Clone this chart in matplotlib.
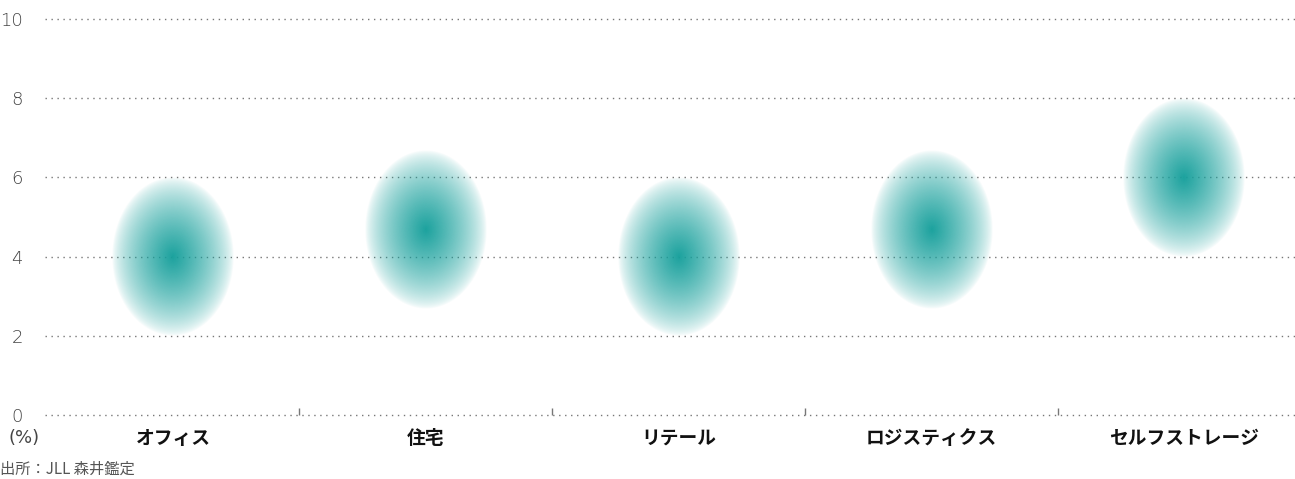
import numpy as np
import matplotlib.pyplot as plt
from matplotlib.colors import to_rgb

plt.rcParams['font.family'] = ['Noto Sans CJK JP', 'DejaVu Sans']

categories = ['オフィス', '住宅', 'リテール', 'ロジスティクス', 'セルフストレージ']
range_low = [2.0, 2.67, 2.0, 2.67, 4.0]
range_high = [6.0, 6.67, 6.0, 6.67, 8.0]
yticks = [0, 2, 4, 6, 8, 10]
source_text = '出所：JLL 森井鑑定'

teal = to_rgb('#17a09c')

fig = plt.figure(figsize=(12.95, 4.79), dpi=100)
ax = fig.add_axes([45 / 1295, 1 - 415 / 479, 1250 / 1295, 396 / 479])
ax.set_xlim(-0.506, 4.439)
ax.set_ylim(0, 10)

# dotted grid
for v in yticks:
    ax.axhline(v, color='#777777', lw=1.0, linestyle=(0, (1, 3.3)), zorder=1, clip_on=False)

# radial gradient blobs
n = 300
u = np.linspace(-1, 1, n)
uu, vv = np.meshgrid(u, u)
r = np.sqrt(uu ** 2 + vv ** 2)
alpha = np.clip(1 - r, 0, 1) ** 0.7
alpha = np.where(r <= 1, alpha, 0) * 0.98
img = np.zeros((n, n, 4))
img[..., 0], img[..., 1], img[..., 2] = teal
img[..., 3] = alpha

half_w = 0.24
for i, (lo, hi) in enumerate(zip(range_low, range_high)):
    ax.imshow(img, extent=(i - half_w, i + half_w, lo, hi), origin='lower',
              aspect='auto', interpolation='bilinear', zorder=2)

for s in ax.spines.values():
    s.set_visible(False)

ax.set_yticks(yticks)
ax.set_yticklabels([str(v) for v in yticks], fontsize=13, color='#444444',
                   family=['DejaVu Sans'], fontweight='light')
ax.tick_params(axis='y', length=0, pad=16)

ax.set_xticks(range(len(categories)))
ax.set_xticklabels(categories, fontsize=13.5, fontweight='bold', color='#111111')
ax.tick_params(axis='x', length=0, pad=10)
ax.set_xticks([i + 0.5 for i in range(len(categories) - 1)], minor=True)
ax.tick_params(axis='x', which='minor', length=5, direction='in', color='#777777', width=1)

fig.text(9 / 1295, 1 - 438 / 479, '(%)', fontsize=13, color='#444444', va='center', ha='left',
         family=['DejaVu Sans'])
fig.text(0 / 1295, 1 - 469 / 479, source_text, fontsize=11, color='#555555', va='center', ha='left')

fig.savefig('out.png', dpi=100)
